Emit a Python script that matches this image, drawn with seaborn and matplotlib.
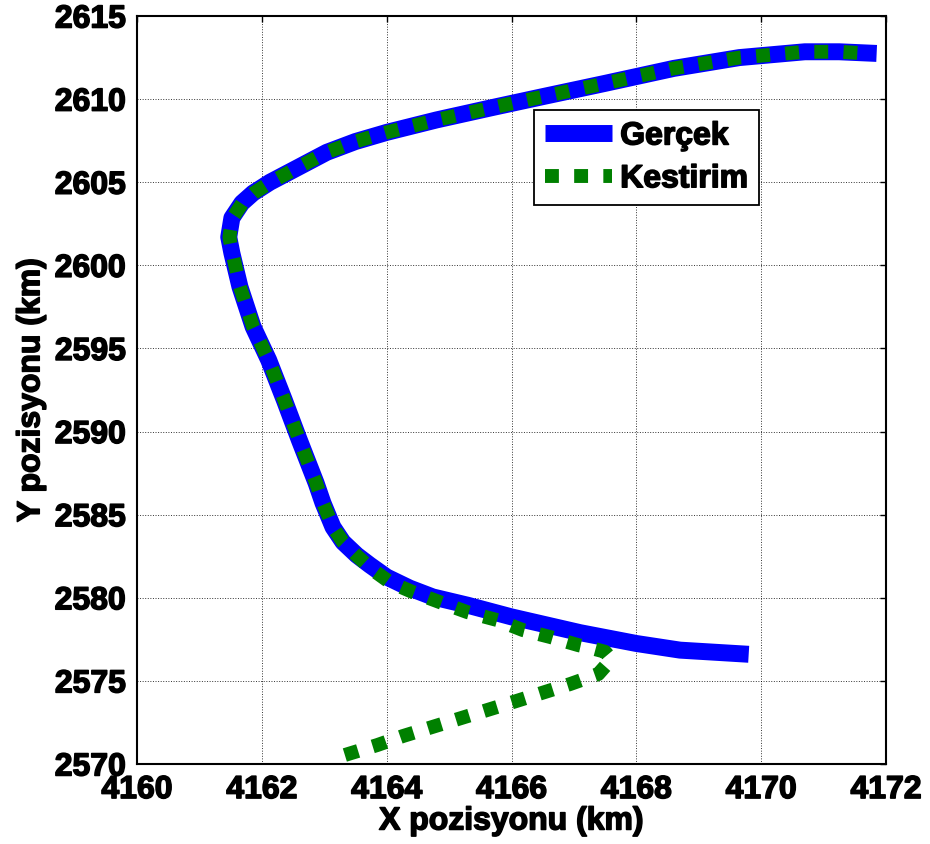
import numpy as np
import pandas as pd
import matplotlib
matplotlib.use("Agg")
import matplotlib.pyplot as plt
import matplotlib.patheffects as pe
import seaborn as sns

# ---- data ----
gercek_x = [4169.8, 4168.7, 4168.0, 4167.1, 4166.0, 4165.3, 4164.74, 4164.37, 4164.0,
            4163.73, 4163.52, 4163.3, 4163.14, 4162.98, 4162.87, 4162.6, 4162.36,
            4162.11, 4161.86, 4161.65, 4161.52, 4161.47, 4161.52, 4161.68, 4161.86,
            4162.13, 4162.56, 4163.04, 4163.5, 4164.0, 4164.8, 4165.7, 4166.5,
            4167.5, 4168.6, 4169.65, 4170.7, 4171.25, 4171.85]
gercek_y = [2576.6, 2576.85, 2577.25, 2577.9, 2578.85, 2579.55, 2580.05, 2580.58, 2581.25,
            2581.97, 2582.57, 2583.35, 2584.25, 2585.7, 2586.9, 2589.5, 2591.9,
            2594.3, 2596.3, 2598.7, 2600.74, 2601.7, 2602.85, 2603.75, 2604.35,
            2605.0, 2605.85, 2606.8, 2607.45, 2608.0, 2608.75, 2609.5, 2610.15,
            2610.95, 2611.85, 2612.5, 2612.85, 2612.85, 2612.75]

kestirim_x = [4163.33, 4163.85, 4164.26, 4165.14, 4166.02, 4166.94, 4167.39, 4167.6,
              4167.5, 4167.25, 4167.07, 4166.62, 4166.18, 4165.77, 4165.29, 4164.85,
              4164.42, 4164.05, 4163.75, 4163.53, 4163.3, 4163.14, 4162.98, 4162.87,
              4162.6, 4162.36, 4162.11, 4161.86, 4161.65, 4161.53, 4161.48, 4161.53,
              4161.69, 4161.87, 4162.14, 4162.56, 4163.04, 4163.5, 4164.0, 4164.8,
              4165.7, 4166.5, 4167.5, 4168.6, 4169.65, 4170.7, 4171.25, 4171.7]
kestirim_y = [2570.54, 2571.14, 2571.68, 2572.7, 2573.72, 2574.81, 2575.41, 2576.3,
              2576.75, 2577.0, 2577.15, 2577.64, 2578.06, 2578.66, 2579.14, 2579.74,
              2580.34, 2580.94, 2581.75, 2582.5, 2583.35, 2584.25, 2585.7, 2586.9,
              2589.5, 2591.9, 2594.3, 2596.3, 2598.7, 2600.74, 2601.7, 2602.85,
              2603.75, 2604.35, 2605.0, 2605.85, 2606.8, 2607.45, 2608.0, 2608.75,
              2609.5, 2610.15, 2610.95, 2611.85, 2612.5, 2612.85, 2612.85, 2612.75]

x_ticks = [4160, 4162, 4164, 4166, 4168, 4170, 4172]
y_ticks = [2570, 2575, 2580, 2585, 2590, 2595, 2600, 2605, 2610, 2615]

# ---- style ----
sns.set_style("white")
plt.rcParams["font.family"] = ["Liberation Sans", "DejaVu Sans"]
plt.rcParams["font.weight"] = "bold"
plt.rcParams["text.color"] = "black"
plt.rcParams["axes.labelcolor"] = "black"
plt.rcParams["xtick.color"] = "black"
plt.rcParams["ytick.color"] = "black"
FS = 23
heavy = [pe.withStroke(linewidth=1.1, foreground="black")]

fig = plt.figure(figsize=(9.3, 8.44), dpi=100)
ax = fig.add_axes([0.1473, 0.0948, 0.8054, 0.8862])

sns.lineplot(x=gercek_x, y=gercek_y, sort=False, estimator=None, ax=ax,
             color="blue", lw=12.2, solid_capstyle="butt", solid_joinstyle="round",
             label="Gerçek")
sns.lineplot(x=kestirim_x, y=kestirim_y, sort=False, estimator=None, ax=ax,
             color="green", lw=10, linestyle=(0, (1, 1.1)), dash_capstyle="butt",
             dash_joinstyle="round", label="Kestirim")

ax.set_xlim(4160, 4172)
ax.set_ylim(2570, 2615)
ax.set_xticks(x_ticks)
ax.set_yticks(y_ticks)
ax.grid(True, color="k", linestyle=":", lw=0.7, alpha=0.8)
ax.set_axisbelow(True)

ax.tick_params(direction="in", length=4, width=1, labelsize=FS, pad=8,
               top=True, right=True)
for lab in ax.get_xticklabels() + ax.get_yticklabels():
    lab.set_fontweight("bold")
    lab.set_path_effects(heavy)
for sp in ax.spines.values():
    sp.set_color("k")
    sp.set_linewidth(1.5)

ax.set_xlabel("X pozisyonu (km)", fontsize=FS, fontweight="bold", labelpad=1,
              path_effects=heavy)
ax.set_ylabel("Y pozisyonu (km)", fontsize=FS, fontweight="bold", labelpad=6,
              path_effects=heavy)

leg = ax.legend(loc="upper left", bbox_to_anchor=(0.530, 0.874), borderaxespad=0,
                prop={"weight": "bold", "size": FS},
                handlelength=2.1, handletextpad=0.25, borderpad=0.35,
                labelspacing=0.4, fancybox=False, framealpha=1,
                edgecolor="k")
leg.get_frame().set_linewidth(1.3)
for t in leg.get_texts():
    t.set_path_effects(heavy)

fig.savefig("out.png", dpi=100)
